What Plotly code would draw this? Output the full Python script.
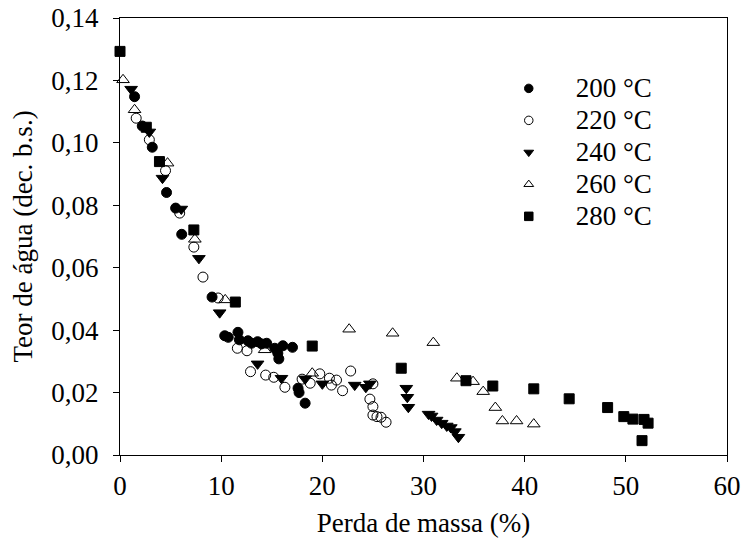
import plotly.graph_objects as go

# Perda de massa (%) e teor de água (dec. b.s.) para cada temperatura
x_200 = [1.44, 2.2, 3.19, 4.6, 5.5, 6.1, 9.1, 10.35, 10.7, 11.66, 11.8, 12.65, 13.0, 13.6,
         14.0, 14.5, 15.3, 15.6, 15.7, 16.1, 17.05, 17.6, 17.7, 18.3]
y_200 = [0.1148, 0.1054, 0.0986, 0.0841, 0.0791, 0.0707, 0.0506, 0.0382, 0.0377, 0.0393,
         0.0369, 0.0366, 0.0358, 0.0363, 0.0356, 0.0358, 0.0342, 0.0326, 0.0308, 0.0350,
         0.0345, 0.0214, 0.0200, 0.0166]

x_220 = [1.6, 2.9, 4.5, 5.9, 7.3, 8.2, 9.7, 11.6, 12.55, 12.9, 14.4, 15.2, 16.3, 18.0,
         18.8, 19.75, 20.7, 20.9, 21.4, 22.0, 22.8, 24.7, 25.0, 25.0, 25.0, 25.4, 25.8, 26.3]
y_220 = [0.1079, 0.1010, 0.0911, 0.0775, 0.0666, 0.0570, 0.0503, 0.0342, 0.0334, 0.0267,
         0.0256, 0.0249, 0.0217, 0.0243, 0.0230, 0.0260, 0.0246, 0.0224, 0.0240, 0.0206,
         0.0269, 0.0179, 0.0155, 0.0228, 0.0128, 0.0123, 0.0121, 0.0105]

x_240 = [1.1, 2.9, 4.2, 6.06, 7.8, 9.85, 13.6, 15.96, 18.3, 20.0, 23.2, 24.3, 24.7, 28.3,
         28.4, 28.5, 30.5, 30.8, 31.3, 31.8, 32.3, 32.7, 33.1, 33.45]
y_240 = [0.1172, 0.1035, 0.0887, 0.0788, 0.0630, 0.0456, 0.0292, 0.0246, 0.0244, 0.0228,
         0.0224, 0.0217, 0.0228, 0.0214, 0.0185, 0.0153, 0.0131, 0.0125, 0.0112, 0.0102,
         0.0093, 0.0088, 0.0075, 0.0057]

x_260 = [0.3, 1.44, 4.7, 7.4, 10.4, 14.3, 19.0, 22.65, 26.95, 30.97, 33.3, 34.9, 35.9,
         37.1, 37.8, 39.2, 40.9]
y_260 = [0.1202, 0.1106, 0.0935, 0.0691, 0.0497, 0.0337, 0.0262, 0.0403, 0.0390, 0.0360,
         0.0246, 0.0235, 0.0203, 0.0152, 0.0109, 0.0109, 0.0099]

x_280 = [0.0, 2.6, 3.9, 7.3, 11.4, 19.0, 27.8, 34.2, 36.85, 40.9, 44.4, 48.2, 49.8, 50.7,
         51.8, 52.2, 51.6]
y_280 = [0.1293, 0.1050, 0.0940, 0.0721, 0.0490, 0.0349, 0.0278, 0.0238, 0.0221, 0.0212,
         0.0180, 0.0152, 0.0123, 0.0115, 0.0114, 0.0102, 0.0046]

labels = ["200 °C", "220 °C", "240 °C", "260 °C", "280 °C"]
symbols = ["circle", "circle-open", "triangle-down", "triangle-up-open", "square"]
sizes = [10, 10, 11, 11, 10]
series = [(x_200, y_200), (x_220, y_220), (x_240, y_240), (x_260, y_260), (x_280, y_280)]

FONT = "Liberation Serif"
TXT = dict(family=FONT, size=27, color="black")

fig = go.Figure()
for (xs, ys), sym, sz in zip(series, symbols, sizes):
    fig.add_trace(go.Scatter(
        x=xs, y=ys, mode="markers", showlegend=False, cliponaxis=False,
        marker=dict(symbol=sym, size=sz, color="black", line=dict(color="black", width=1)),
    ))

# smaller symbols for the legend entries; the label text is set larger than the
# legend font so the rows stay compact
for name, sym in zip(labels, symbols):
    fig.add_trace(go.Scatter(
        x=[None], y=[None], mode="markers",
        name=f'<span style="font-size:27px">{name}</span>',
        marker=dict(symbol=sym, size=8.5, color="black", line=dict(color="black", width=1)),
    ))

axis_common = dict(
    showline=True, linecolor="black", linewidth=1, mirror=True,
    ticks="outside", ticklen=6, tickcolor="black", tickwidth=1,
    showgrid=False, zeroline=False, automargin=False,
    tickfont=TXT,
)

fig.update_layout(
    width=742, height=549,
    margin=dict(l=120, r=15, t=18, b=94),
    paper_bgcolor="white", plot_bgcolor="white",
    separators=",.",
    font=TXT,
    xaxis=dict(range=[0, 60], dtick=10, ticklabelstandoff=1,
               title=dict(text="Perda de massa (%)", standoff=12, font=TXT),
               **axis_common),
    yaxis=dict(range=[0, 0.14], dtick=0.02, tickformat=".2f", ticklabelstandoff=9,
               title=dict(text="Teor de água (dec. b.s.)", standoff=10, font=TXT),
               **axis_common),
    legend=dict(x=0.596, y=0.887, xanchor="left", yanchor="top",
                bgcolor="rgba(0,0,0,0)", itemwidth=84,
                font=dict(family=FONT, size=22.3, color="black")),
)

fig.write_html("out.html")
